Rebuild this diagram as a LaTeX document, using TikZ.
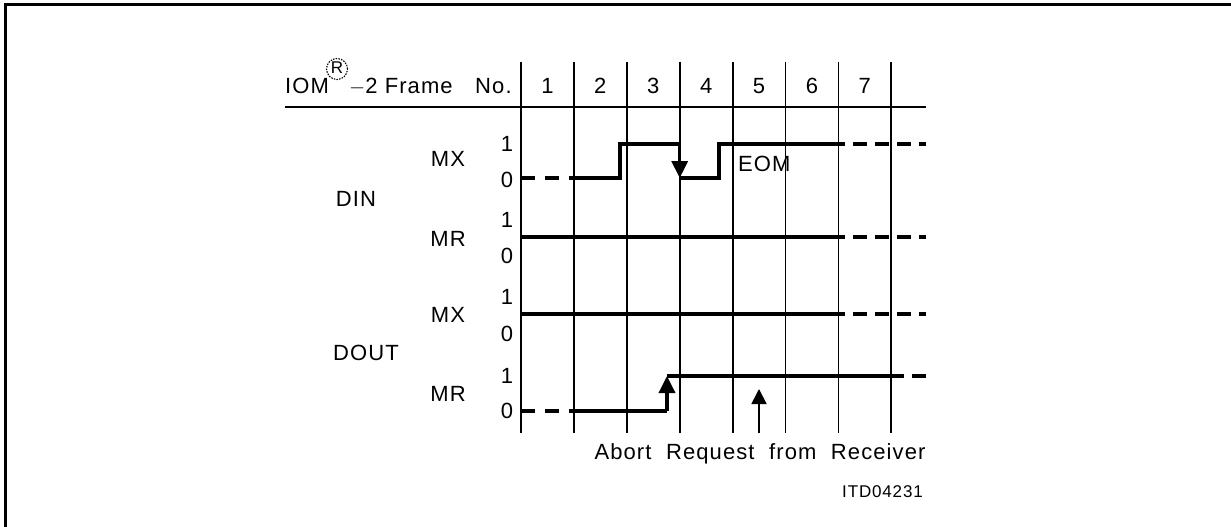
\documentclass[tikz,border=0pt]{standalone}
\usepackage{fontspec}
\setmainfont{Liberation Sans}[LetterSpace=5]
\usetikzlibrary{arrows.meta}
\begin{document}
\begin{tikzpicture}[x=1pt,y=-1pt,
  every node/.style={inner sep=0pt,font=\fontsize{22}{25}\selectfont},
  gridline/.style={line width=1.8pt},
  sig/.style={line width=3.5pt},
  sigdash/.style={line width=3.5pt,dash pattern=on 14pt off 10pt},
  frameline/.style={line width=3pt},
  tipdown/.style={-{Triangle[length=17pt,width=16pt]}},
  small/.style={font=\fontsize{17}{20}\selectfont}]
\useasboundingbox (0,0) rectangle (1231,527);
% outer frame (only top and left visible)
\coordinate (fA) at (5,527);
\coordinate (fB) at (5,5);
\coordinate (fC) at (1231,5);
\draw[frameline] (fA) -- (fB) -- (fC);
% grid
\foreach \i in {0,...,7}{
  \coordinate (t\i) at ({521+52.9*\i},62);
  \coordinate (b\i) at ({521+52.9*\i},433);
  \draw[gridline] (t\i) -- (b\i);
}
\coordinate (hl) at (285,107);
\coordinate (hr) at (926,107);
\draw[gridline] (hl) -- (hr);
% header
\node[anchor=base west] (iom) at (285,93) {IOM};
\node[circle,draw,dash pattern=on 1.5pt off 1.2pt,line width=1.1pt,minimum size=21pt] (reg) at (337,69) {};
\node[font=\fontsize{17}{19}\selectfont] (regR) at (337,68) {R};
\node[anchor=base west] (frame) at (349,93) {$-$2 Frame};
\node[anchor=base west] (no) at (475,93) {No.};
\foreach \n in {1,...,7}{
  \node[anchor=base] (num\n) at ({521+52.9*(\n-0.5)},93) {\n};
}
% row labels
\node (din) at (356,199) {DIN};
\node (dout) at (366,353) {DOUT};
\node (mx1) at (448,159) {MX};
\node (mr1) at (448,239) {MR};
\node (mx2) at (448,315) {MX};
\node (mr2) at (448,394) {MR};
\node (a1) at (507,144) {1};
\node (a0) at (507,180) {0};
\node (b1l) at (507,220) {1};
\node (b0l) at (507,256) {0};
\node (c1) at (507,297) {1};
\node (c0) at (507,334) {0};
\node (d1) at (507,376) {1};
\node (d0) at (507,411) {0};
% DIN MX
\coordinate (p0) at (521,178);
\coordinate (p1) at (570,178);
\coordinate (p2) at (620,178);
\coordinate (p3) at (620,144);
\coordinate (p4) at (679.7,144);
\coordinate (p5) at (679.7,178);
\coordinate (p6) at (719,178);
\coordinate (p7) at (719,144);
\coordinate (p8) at (845,144);
\coordinate (p9) at (926,144);
\draw[sigdash] (p0) -- (p1);
\draw[sig] (p1) -- (p2) -- (p3) -- (p4);
\draw[sig,tipdown] (p4) -- (p5);
\draw[sig] (p5) -- (p6) -- (p7) -- (p8);
\draw[sigdash,dash phase=14pt,dash pattern=on 14pt off 8pt] (p8) -- (p9);
\node[anchor=west] (eom) at (738,164) {EOM};
% DIN MR
\coordinate (q0) at (521,237);
\coordinate (q1) at (845,237);
\coordinate (q2) at (926,237);
\draw[sig] (q0) -- (q1);
\draw[sigdash,dash phase=14pt,dash pattern=on 14pt off 8pt] (q1) -- (q2);
% DOUT MX
\coordinate (r0) at (521,314);
\coordinate (r1) at (845,314);
\coordinate (r2) at (926,314);
\draw[sig] (r0) -- (r1);
\draw[sigdash,dash phase=14pt,dash pattern=on 14pt off 8pt] (r1) -- (r2);
% DOUT MR
\coordinate (s0) at (521,411);
\coordinate (s1) at (570,411);
\coordinate (s2) at (667,411);
\coordinate (s3) at (667,376);
\coordinate (s4) at (904,376);
\coordinate (s5) at (926,376);
\draw[sigdash] (s0) -- (s1);
\draw[sig] (s1) -- (s2);
\draw[sig,tipdown] (s2) -- (s3);
\draw[sig] (s3) -- (s4);
\draw[sigdash,dash phase=14pt,dash pattern=on 14pt off 8pt] (s4) -- (s5);
% receiver arrow
\coordinate (u0) at (759,433);
\coordinate (u1) at (759,389);
\draw[gridline,-{Triangle[length=15pt,width=15pt]}] (u0) -- (u1);
\node[anchor=base] (abort) at (760,459) {Abort\,\, Request\,\, from\,\, Receiver};
\node[small,anchor=base east] (itd) at (923,497) {ITD04231};
\end{tikzpicture}
\end{document}
